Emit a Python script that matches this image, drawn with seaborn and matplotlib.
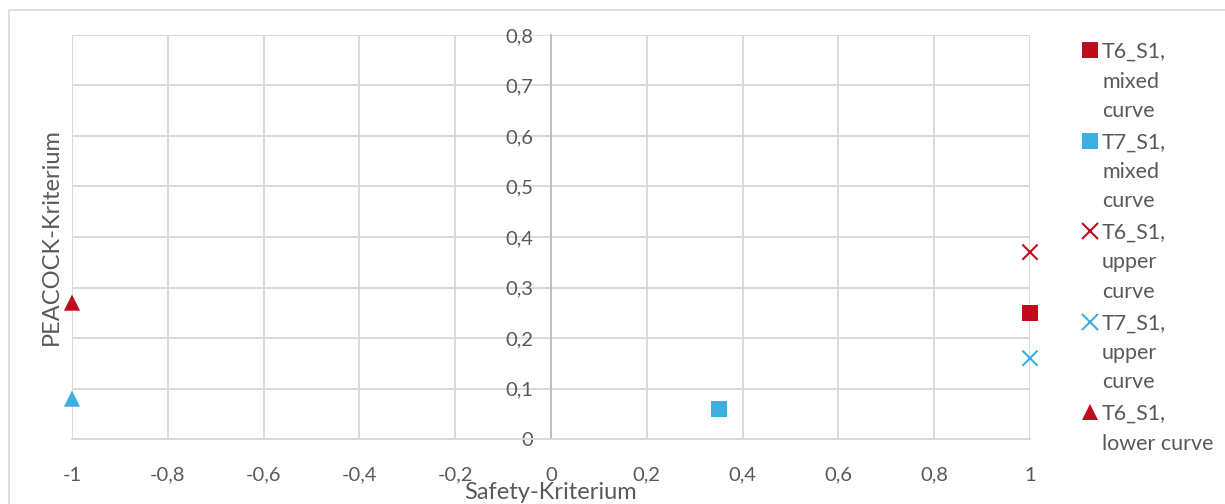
import numpy as np
import pandas as pd
import matplotlib
matplotlib.use("Agg")
import matplotlib.pyplot as plt
from matplotlib.lines import Line2D
from matplotlib.patches import Rectangle
from matplotlib.ticker import MultipleLocator, FuncFormatter
import seaborn as sns

# data
series = ["T6_S1, mixed curve", "T7_S1, mixed curve", "T6_S1, upper curve",
          "T7_S1, upper curve", "T6_S1, lower curve", "T7_S1, lower curve"]
safety = [1.0, 0.35, 1.0, 1.0, -1.0, -1.0]
peacock = [0.25, 0.06, 0.37, 0.16, 0.27, 0.08]
legend_labels = ["T6_S1,\nmixed\ncurve", "T7_S1,\nmixed\ncurve", "T6_S1,\nupper\ncurve",
                 "T7_S1,\nupper\ncurve", "T6_S1,\nlower curve"]

red = "#C00A1E"
blue = "#3DAEE0"
colors = {series[0]: red, series[1]: blue, series[2]: red,
          series[3]: blue, series[4]: red, series[5]: blue}
markers = {series[0]: "s", series[1]: "s", series[2]: "x",
           series[3]: "x", series[4]: "^", series[5]: "^"}

df = pd.DataFrame({"Safety": safety, "Peacock": peacock, "Serie": series})
df["Marker"] = df["Serie"].map(markers)
filled = df[df["Marker"] != "x"]
crosses = df[df["Marker"] == "x"]

sns.set_style("white")
plt.rcParams["font.family"] = ["Lato", "DejaVu Sans"]
txt = "#595959"
grid = "#D9D9D9"

fig = plt.figure(figsize=(12.25, 5.04), dpi=100)
W, H = 1225, 504
ax = fig.add_axes([72 / W, 1 - 439 / H, (1030 - 72) / W, (439 - 35) / H])

sns.scatterplot(data=filled, x="Safety", y="Peacock", hue="Serie", style="Serie",
                palette={k: colors[k] for k in filled["Serie"]},
                markers={k: markers[k] for k in filled["Serie"]}, s=135, linewidth=0,
                legend=False, ax=ax, clip_on=False, zorder=5)
sns.scatterplot(data=crosses, x="Safety", y="Peacock", hue="Serie",
                palette={k: colors[k] for k in crosses["Serie"]},
                marker="x", s=120, linewidth=1.5,
                legend=False, ax=ax, clip_on=False, zorder=5)

ax.set_xlim(-1, 1)
ax.set_ylim(0, 0.8)
ax.xaxis.set_major_locator(MultipleLocator(0.2))
ax.yaxis.set_major_locator(MultipleLocator(0.1))


def comma(v, p):
    v = round(v, 1)
    if v == 0:
        return "0"
    return ("%g" % v).replace(".", ",")


ax.xaxis.set_major_formatter(FuncFormatter(comma))
ax.yaxis.set_major_formatter(FuncFormatter(comma))

ax.grid(True, color=grid, lw=1.4)
ax.set_axisbelow(True)
for s in ["top", "right"]:
    ax.spines[s].set_visible(False)
ax.spines["left"].set_position(("data", 0))
ax.spines["left"].set_color("#BFBFBF")
ax.spines["left"].set_linewidth(1.4)
ax.spines["bottom"].set_color(grid)
ax.spines["bottom"].set_linewidth(1.4)
ax.tick_params(axis="both", length=0, labelsize=14.5, labelcolor=txt)
ax.tick_params(axis="y", pad=13)
ax.tick_params(axis="x", pad=20)

ax.set_xlabel("Safety-Kriterium", fontsize=17, color=txt)
ax.set_ylabel("PEACOCK-Kriterium", fontsize=17, color=txt)
ax.xaxis.set_label_coords(0.5, -0.106)
ax.yaxis.set_label_coords(-0.0105, 0.5)

# legend, drawn by hand so the marker sits on the first text line
for i, name in enumerate(series[:5]):
    y0 = 50 + 90.5 * i
    m = markers[name]
    if m == "x":
        h = Line2D([1090 / W], [1 - y0 / H], ls="none", marker="x", color=colors[name],
                   markersize=11, mew=1.5, transform=fig.transFigure)
    else:
        h = Line2D([1090 / W], [1 - y0 / H], ls="none", marker=m, color=colors[name],
                   markersize=11.5, mew=0, transform=fig.transFigure)
    fig.add_artist(h)
    for k, line in enumerate(legend_labels[i].split("\n")):
        fig.text(1102 / W, 1 - (y0 + 29.5 * k) / H, line, fontsize=15.5, color=txt,
                 ha="left", va="center_baseline")

fig.add_artist(Rectangle((9 / W, -0.1), 1.2, 1.1 - 10 / H, transform=fig.transFigure,
                         fill=False, edgecolor=grid, lw=1.2))

fig.savefig("out.png", dpi=100)
